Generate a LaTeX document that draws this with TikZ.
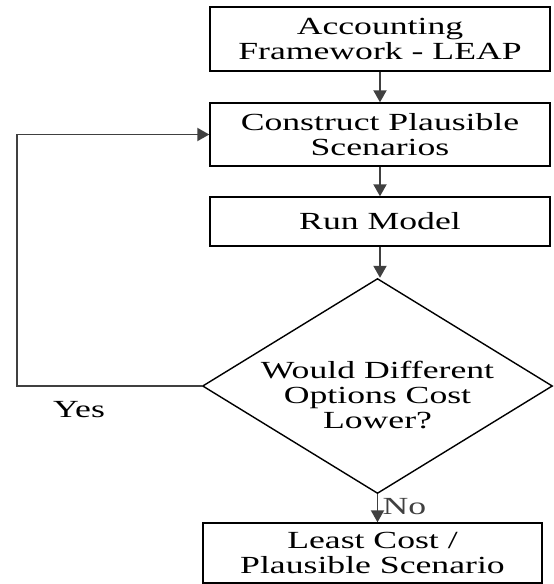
\documentclass[tikz,border=0pt]{standalone}
\usepackage{fontspec}
\newfontfamily\chartfont[FakeStretch=1.45]{Liberation Serif}
\usepackage{tikz}
\usetikzlibrary{shapes.geometric,arrows.meta,positioning,calc}

\begin{document}
\begin{tikzpicture}[
    flowbox/.style={rectangle, draw=black, line width=0.8pt, minimum width=6.8cm,
        align=center, inner sep=2pt,
        font={\chartfont\fontsize{14}{14.4}\selectfont}},
    decision/.style={diamond, aspect=1.65, draw=black, line width=0.8pt, minimum width=7.0cm,
        minimum height=4.3cm, inner sep=-6pt, align=center,
        font={\chartfont\fontsize{14}{14.4}\selectfont}},
    arr/.style={-{Triangle[length=2.4mm, width=2.6mm]}, line width=1.1pt, black!75},
    lbl/.style={font={\chartfont\fontsize{14}{14.4}\selectfont}}
]
    \useasboundingbox (0,0) rectangle (11.08,-11.68);

    \node[flowbox, minimum height=1.28cm] (leap) at (7.6, -0.78)
        {Accounting\\Framework - LEAP};
    \node[flowbox, minimum height=1.26cm] (scen) at (7.6, -2.69)
        {Construct Plausible\\Scenarios};
    \node[flowbox, minimum height=0.98cm] (run) at (7.6, -4.43)
        {Run Model};
    \node[decision] (dec) at (7.55, -7.72)
        {\rule{0pt}{20pt}Would Different\\Options Cost\\Lower?};
    \node[flowbox, minimum width=6.78cm, minimum height=1.2cm] (least) at (7.45, -11.06)
        {Least Cost /\\Plausible Scenario};

    \coordinate (loop) at (0.34, -7.72);

    \draw[arr] (leap) -- (scen);
    \draw[arr] (scen) -- (run);
    \draw[arr] (run.south) -- (run.south |- dec.north);
    \draw[arr] (dec.south) -- node[lbl, right, xshift=-1pt, yshift=1pt] {No} (dec.south |- least.north);
    \draw[arr] (dec.west) -- (loop) |- (scen.west);

    \node[lbl] (yes) at (1.58, -8.2) {Yes};
\end{tikzpicture}
\end{document}
